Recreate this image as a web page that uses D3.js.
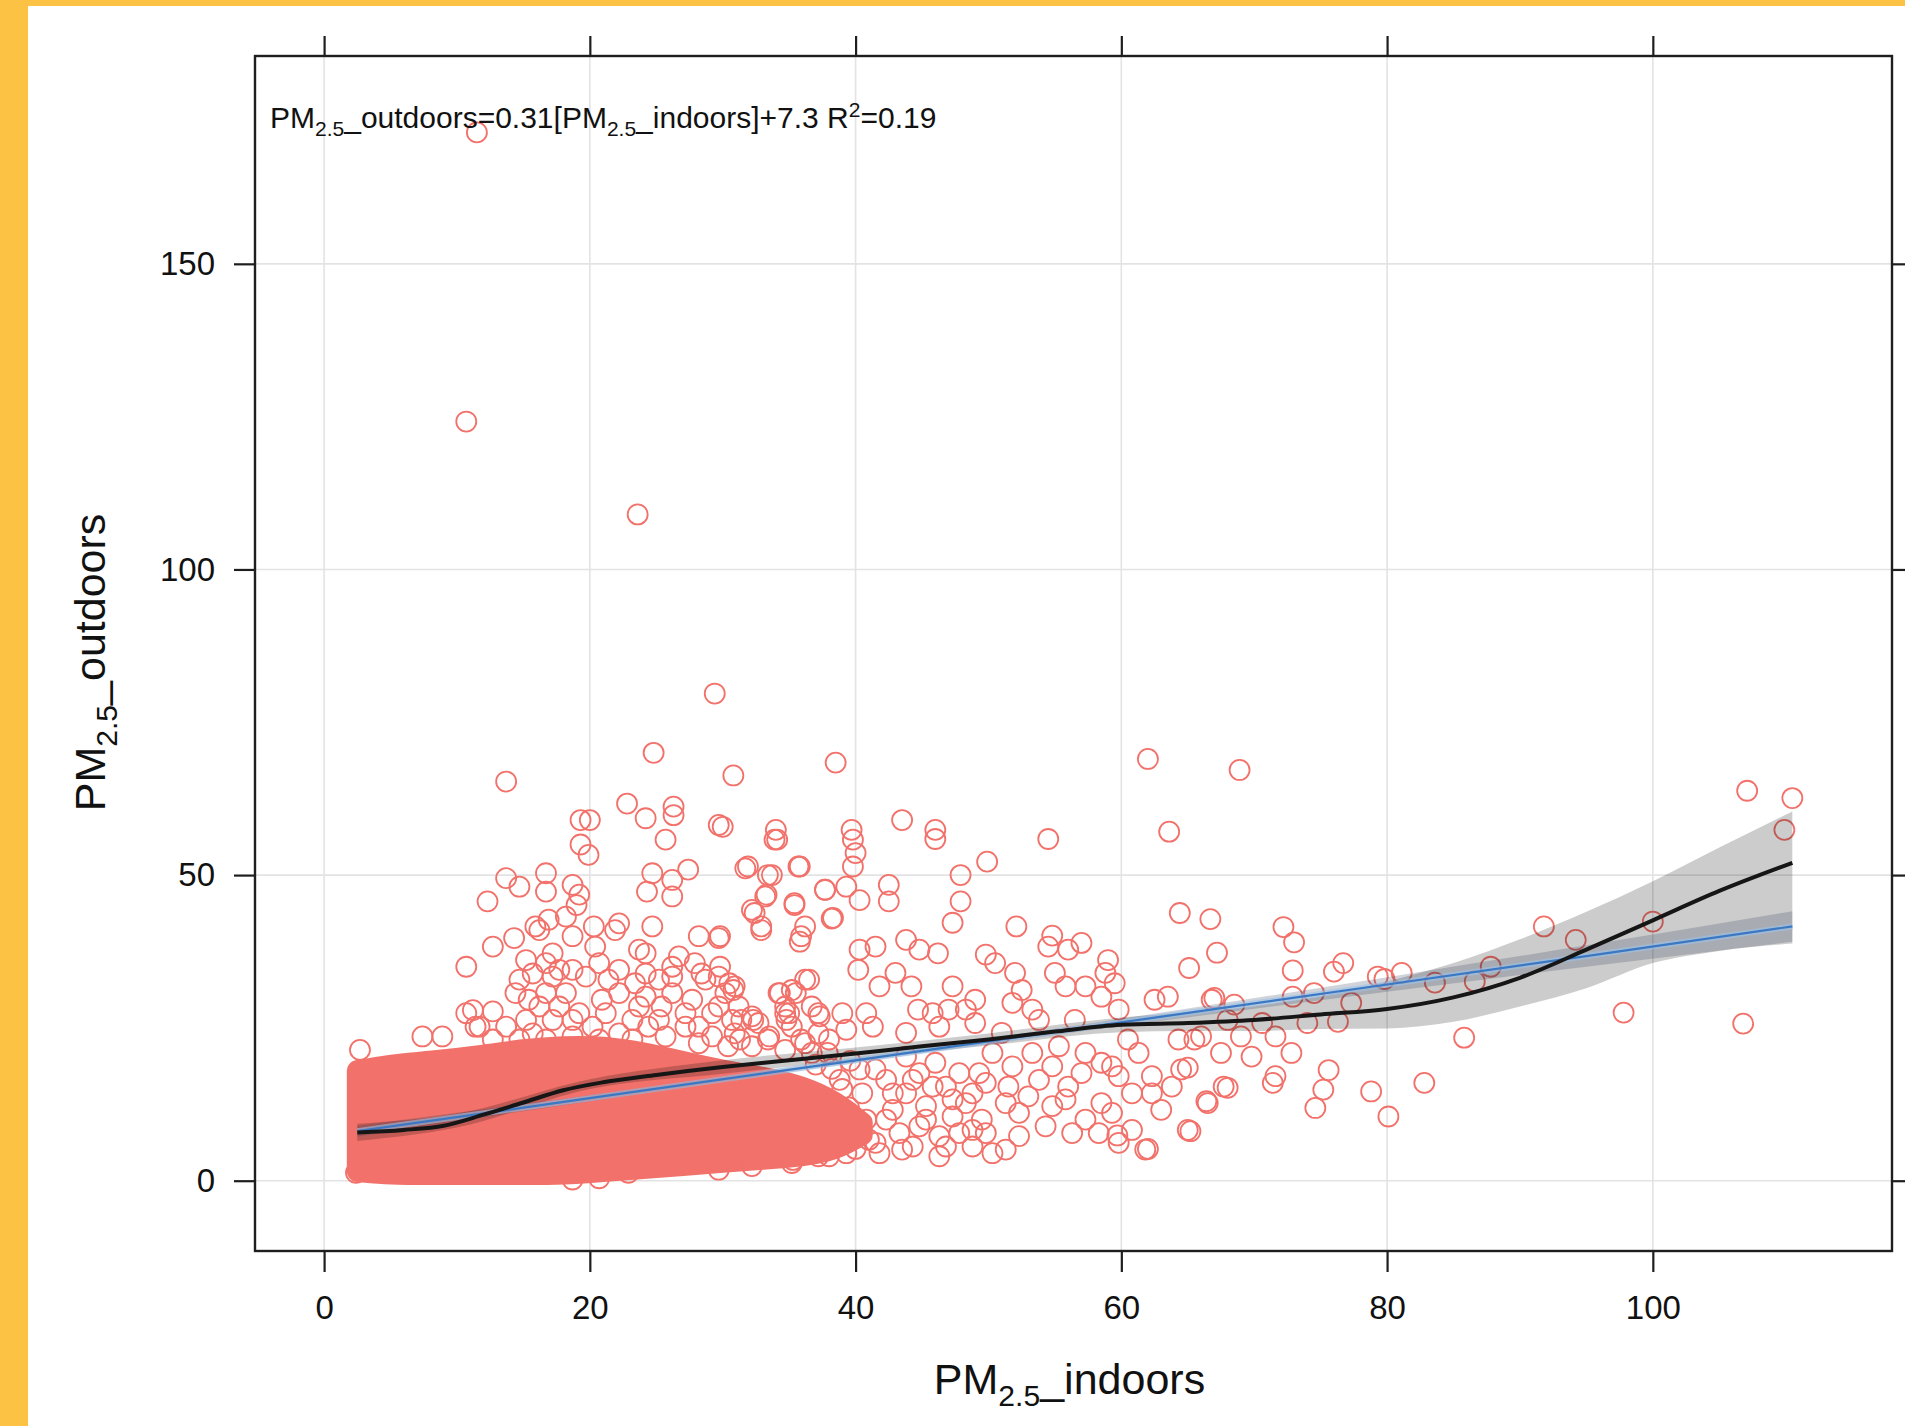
<!DOCTYPE html>
<html>
<head>
<meta charset="utf-8">
<script src="https://cdn.jsdelivr.net/npm/d3@7"></script>
<style>
  body { margin: 0; background: #fff; }
  svg { display: block; font-family: "Liberation Sans", Arial, sans-serif; }
</style>
</head>
<body>
<svg id="chart" width="1905" height="1426"></svg>
<script>
// ---- data (PM2.5 indoors, PM2.5 outdoors) ----
const xTicks = [0, 20, 40, 60, 80, 100];
const yTicks = [0, 50, 100, 150];

// dense, saturated cloud of points (centre envelope)
const coreX   = [2.5, 5, 8, 12, 15, 18, 21, 24, 27, 30, 33, 36, 38.5, 40.5];
const coreTop = [18, 19, 19.5, 20.5, 21.5, 22, 22, 21, 19.5, 18, 17, 15.5, 13, 9.5];
const coreBot = [1.5, 1, 1, 1, 1, 1, 1.5, 2, 2.5, 3, 3.5, 4, 5, 7.5];

const ptsHigh = [[11.5,171.5],[10.7,124.2],[23.6,109.0],[29.4,79.7],[13.7,65.3],[24.8,70.0],[30.8,66.3],
  [38.5,68.4],[62.0,69.0],[68.9,67.2],[107.1,63.8],[110.5,62.6],[109.9,57.4],[22.8,61.7],[24.2,59.3],
  [26.3,61.2],[26.3,59.8],[19.3,59.0],[20.0,59.0],[29.7,58.2],[43.5,59.0],[34.0,57.4],[39.7,57.4],
  [46.0,57.4],[25.7,55.8],[19.3,55.0],[19.9,53.3],[33.9,55.8],[30.0,57.9],[63.6,57.1]];

const ptsMid = [[46.0,55.9],[54.5,55.9],[34.1,55.8],[31.9,51.4],[33.7,50.0],[35.8,51.4],[39.8,55.8],
  [40.0,53.6],[39.8,51.4],[49.9,52.2],[47.9,50.0],[42.5,48.4],[42.5,45.7],[47.9,45.7],[47.3,42.2],
  [37.7,47.6],[39.3,48.1],[40.3,45.9],[33.3,46.8],[35.4,45.1],[32.4,43.8],[32.9,41.0],[36.2,41.6],
  [35.8,39.1],[38.3,43.0],[52.1,41.6],[54.8,40.1],[29.8,40.0]];

const ptsBand = [[40.3,37.8],[41.5,38.3],[43.8,39.4],[44.8,37.8],[46.2,37.2],[49.8,37.0],[50.5,35.6],
  [54.5,38.3],[56.0,37.8],[57.0,38.9],[59.0,36.1],[58.8,34.0],[40.2,34.5],[43.0,34.0],[41.8,31.8],
  [44.2,31.8],[47.3,31.8],[49.0,29.6],[52.0,34.0],[52.5,31.2],[55.0,34.0],[55.8,31.8],[57.3,31.8],
  [58.5,30.1],[59.5,32.3],[51.8,29.1],[53.3,28.0],[45.8,27.4],[47.0,28.0],[48.3,28.0],[44.7,28.0],
  [40.8,27.4],[39.0,27.4],[37.3,26.9],[35.0,27.4],[35.5,30.7],[32.3,26.3],[30.8,31.2],[29.8,35.0],
  [31.3,23.1],[33.5,23.6],[36.2,22.5],[39.3,24.7],[41.3,25.2],[43.8,24.2],[46.3,25.2],[49.0,25.8],
  [51.0,24.2],[53.8,26.3],[56.5,26.3],[59.8,28.0],[60.5,23.1],[62.5,29.6],[63.5,30.1],[66.8,29.6],
  [68.0,26.3],[66.0,23.6],[64.3,23.1],[30.5,32.3],[34.3,30.7],[36.5,32.9],[34.8,26.3],[38.0,23.1]];

const ptsLow = [[51.5,15.4],[53.8,16.5],[56.0,15.4],[57.0,17.6],[58.5,19.3],[59.8,17.1],[60.8,14.3],
  [62.3,17.1],[64.5,18.2],[66.5,12.7],[67.7,15.4],[63.0,11.6],[58.5,12.7],[55.8,13.3],[53.0,13.8],
  [54.3,8.9],[56.3,7.8],[58.3,7.8],[59.8,6.2],[61.8,5.1],[60.8,8.3],[65.0,8.3],[52.3,7.3],[51.3,5.1],
  [50.3,4.5],[46.8,5.6],[46.3,4.0],[47.8,7.8],[43.5,5.1],[41.5,6.2],[39.3,4.5],[38.0,4.0],[36.8,4.5],
  [35.3,3.4],[33.5,4.5],[41.5,18.2],[42.8,14.3],[44.3,16.5],[45.3,12.2],[46.8,15.4],[48.3,12.7],
  [49.3,17.6],[42.3,10.0],[44.8,8.9],[47.3,10.5],[46.0,19.3],[43.8,20.3],[48.8,8.3],[59.7,7.4],[62.0,5.2],
  [50.3,20.9],[51.8,18.7],[53.3,20.9],[54.8,18.7],[55.3,22.0],[57.3,20.9],[59.3,18.7],[61.3,20.9],
  [62.3,14.3],[63.8,15.4],[52.3,11.1],[54.8,12.2],[57.3,10.0],[59.3,11.1],[51.3,12.7],[49.8,7.8]];

// fringe of the cloud, 36 < x < 50
const ptsFringe = [[40.3,18.2],[40.5,14.3],[40.8,10.0],[41.0,6.7],[42.3,16.5],[42.8,11.6],[43.3,7.8],
  [43.8,14.3],[44.8,17.6],[45.3,10.0],[45.8,15.4],[46.3,7.3],[47.3,13.3],[47.8,17.6],[48.8,14.3],
  [49.5,10.0],[49.8,16.0],[44.3,5.6],[41.8,4.5],[48.8,5.6],[39.5,12.0],[39.8,8.0],[38.8,16.5],
  [39.0,15.0],[40.0,5.2],[38.2,18.3],[37.0,19.0],[39.6,19.6]];

const ptsRight = [[64.4,43.8],[66.7,42.8],[72.2,41.5],[73.0,39.0],[67.2,37.3],[65.1,34.8],[72.9,34.4],
  [76.7,35.6],[76.0,34.2],[91.8,41.6],[94.2,39.4],[100.0,42.4],[87.8,35.0],[83.6,32.4],[86.6,32.6],
  [79.3,33.4],[81.1,34.0],[79.8,33.0],[97.8,27.5],[85.8,23.4],[82.8,16.0],[78.8,14.6],[80.1,10.5],
  [75.6,18.1],[75.2,14.9],[74.6,11.9],[72.8,20.9],[71.6,17.1],[71.4,16.0],[69.8,20.3],[68.0,15.2],
  [66.4,13.0],[65.2,8.1],[65.0,18.5],[67.5,20.9],[69.0,23.6],[71.6,23.6],[74.0,25.8],[76.3,26.0],
  [77.3,29.1],[74.5,30.7],[68.5,28.8],[67.0,29.9],[65.5,23.1],[70.6,25.8],[72.9,30.1],[106.8,25.7]];

const ptsLeft = [[13.7,49.5],[12.3,45.7],[14.7,48.1],[16.7,50.3],[16.7,47.3],[18.7,48.4],[19.2,46.8],
  [19.0,45.1],[24.7,50.3],[24.3,47.3],[26.2,46.5],[26.2,49.2],[27.4,50.9],[31.7,51.1],[33.4,50.0],
  [35.7,51.4],[32.2,44.3],[33.2,46.5],[35.4,45.4],[32.9,41.6],[35.9,40.0],[37.7,47.6],[38.2,42.9],
  [10.7,35.0],[12.7,38.3],[14.3,39.7],[16.2,41.0],[16.9,42.7],[18.7,40.0],[20.3,41.6],[22.2,42.1],
  [24.7,41.6],[15.2,36.1],[17.2,37.2],[20.4,38.3],[24.2,37.2],[28.2,40.0],[29.7,39.7],[26.7,36.7],
  [14.7,32.9],[17.2,33.4],[18.7,34.5],[22.2,34.5],[24.2,33.9],[26.2,35.0],[28.4,33.9],[29.7,33.4],
  [30.9,31.8],[35.2,31.2],[36.2,32.9],[11.2,27.9],[12.7,27.7],[15.4,29.6],[16.7,30.7],[17.7,28.5],
  [20.9,29.6],[23.7,28.5],[25.4,28.5],[27.7,29.6],[29.7,28.5],[32.2,26.9],[34.7,28.5],[37.2,27.4],
  [7.4,23.6],[8.9,23.6],[2.7,21.4],[11.7,25.2],[13.7,25.2],[15.7,24.1],[18.7,26.3],[22.2,24.1],
  [24.4,25.2],[27.2,25.2],[29.2,23.6],[30.9,24.1],[33.4,23.1],[35.9,23.1],[37.9,20.9],
  [2.4,1.3],[27.2,2.9],[29.7,1.8],[32.2,2.4],[35.2,2.9],[37.2,4.0],[18.7,0.2],[20.7,0.4],[22.9,1.3]];

// busy zone just above the cloud, 10 < x < 38
const ptsBusy = [[15.9,41.6],[18.2,43.2],[21.9,41.0],[23.7,37.8],[26.2,33.4],[27.9,35.6],[28.7,32.9],
  [30.2,30.7],[31.2,28.5],[31.4,26.3],[32.7,25.8],[34.2,30.7],[34.7,27.4],[35.2,25.2],[36.7,28.5],
  [37.2,24.1],[14.4,30.7],[15.2,26.3],[16.2,28.5],[17.2,26.3],[18.2,30.7],[19.2,27.4],[20.2,25.2],
  [21.2,27.4],[22.2,30.7],[23.2,26.3],[24.2,30.1],[25.2,26.3],[26.2,30.7],[27.2,27.4],[28.2,25.2],
  [29.2,27.4],[30.7,26.3],[15.7,33.9],[16.7,35.6],[17.7,34.5],[19.7,33.4],[20.7,35.6],[21.4,32.9],
  [23.4,32.3],[25.2,32.9],[14.7,23.1],[16.7,23.1],[18.7,23.6],[20.7,23.1],[23.2,23.1],[25.7,23.6],
  [28.2,22.5],[30.4,22.0],[32.2,22.0],[34.7,21.4],[36.7,20.9],[10.7,27.4],[11.4,25.2],[12.7,23.1]];

// smooth (loess) fit and its band
const smoothX = [2.5, 6, 9, 12, 15, 18, 21, 25, 30, 35, 40, 45, 50, 55, 60, 65, 70, 75, 80, 85, 90, 95, 100, 105, 110.5];
const smoothY = [7.9, 8.3, 9.0, 10.8, 12.8, 14.8, 16.1, 17.3, 18.6, 19.7, 20.8, 22.0, 23.1, 24.4, 25.5, 25.8, 26.3, 27.2, 28.1, 30.0, 33.2, 37.8, 42.6, 47.4, 52.0];
const bandX  = [2.5, 10, 20, 30, 40, 50, 60, 65, 70, 75, 80, 85, 90, 95, 100, 105, 110.5];
const bandHi = [9.3, 11.0, 16.6, 19.7, 21.8, 24.1, 26.7, 27.5, 28.6, 30.2, 32.6, 35.6, 39.5, 44.0, 49.0, 54.5, 60.4];
const bandLo = [6.5, 8.7, 15.0, 17.5, 19.8, 22.1, 24.3, 24.5, 24.5, 24.8, 24.9, 26.0, 28.5, 31.5, 35.6, 37.6, 38.8];

// linear fit (0.31x + 7.3) and its band
const linX  = [2.5, 20, 40, 60, 80, 95, 110.5];
const linY  = [8.1, 13.5, 19.7, 25.9, 32.1, 36.75, 41.6];
const linHi = [9.0, 14.0, 20.1, 26.5, 33.3, 38.5, 44.1];
const linLo = [7.2, 13.0, 19.3, 25.3, 30.9, 35.0, 39.1];

// ---- drawing ----
const svg = d3.select('#chart');
const panel = { left: 255, right: 1892, top: 56, bottom: 1251 };
const ptColour = '#f2716a';
const ink = '#1e1e1e';

const x = d3.scaleLinear().domain([-5.2, 118]).range([panel.left, panel.right]);
const y = d3.scaleLinear().domain([-11.5, 184]).range([panel.bottom, panel.top]);

// yellow frame
svg.append('rect').attr('x', 0).attr('y', 0).attr('width', 1905).attr('height', 6).attr('fill', '#fbc244');
svg.append('rect').attr('x', 0).attr('y', 0).attr('width', 28).attr('height', 1426).attr('fill', '#fbc244');

svg.append('clipPath').attr('id', 'clip')
  .append('rect')
  .attr('x', panel.left).attr('y', panel.top)
  .attr('width', panel.right - panel.left).attr('height', panel.bottom - panel.top);

const g = svg.append('g').attr('clip-path', 'url(#clip)');

// grid
g.selectAll('.gx').data(xTicks).enter().append('line')
  .attr('x1', d => x(d)).attr('x2', d => x(d))
  .attr('y1', panel.top).attr('y2', panel.bottom)
  .attr('stroke', '#e3e3e3').attr('stroke-width', 1.6);
g.selectAll('.gy').data(yTicks).enter().append('line')
  .attr('y1', d => y(d)).attr('y2', d => y(d))
  .attr('x1', panel.left).attr('x2', panel.right)
  .attr('stroke', '#e3e3e3').attr('stroke-width', 1.6);

// saturated cloud
const core = coreX.map((d, i) => ({ x: d, hi: coreTop[i], lo: coreBot[i] }));
g.append('path')
  .datum(core)
  .attr('d', d3.area().x(d => x(d.x)).y0(d => y(d.lo)).y1(d => y(d.hi)).curve(d3.curveBasis))
  .attr('fill', ptColour)
  .attr('stroke', ptColour)
  .attr('stroke-width', 21)
  .attr('stroke-linejoin', 'round');

// individual points
const allPts = [].concat(ptsHigh, ptsMid, ptsBand, ptsLow, ptsFringe, ptsRight, ptsLeft, ptsBusy);
g.append('g').selectAll('circle')
  .data(allPts)
  .enter().append('circle')
  .attr('cx', d => x(d[0]))
  .attr('cy', d => y(d[1]))
  .attr('r', 10)
  .attr('fill', 'none')
  .attr('stroke', ptColour)
  .attr('stroke-width', 1.8);

// loess band
const band = bandX.map((d, i) => ({ x: d, hi: bandHi[i], lo: bandLo[i] }));
g.append('path')
  .datum(band)
  .attr('d', d3.area().x(d => x(d.x)).y0(d => y(d.lo)).y1(d => y(d.hi)).curve(d3.curveMonotoneX))
  .attr('fill', '#000').attr('fill-opacity', 0.2);

// linear band
const lband = linX.map((d, i) => ({ x: d, hi: linHi[i], lo: linLo[i] }));
g.append('path')
  .datum(lband)
  .attr('d', d3.area().x(d => x(d.x)).y0(d => y(d.lo)).y1(d => y(d.hi)).curve(d3.curveMonotoneX))
  .attr('fill', '#2a3d55').attr('fill-opacity', 0.22);

// linear fit line
const lin = linX.map((d, i) => ({ x: d, y: linY[i] }));
const lineGen = d3.line().x(d => x(d.x)).y(d => y(d.y));
g.append('path').datum(lin).attr('d', lineGen)
  .attr('fill', 'none').attr('stroke', '#9cc2ea').attr('stroke-width', 6).attr('stroke-opacity', 0.6);
g.append('path').datum(lin).attr('d', lineGen)
  .attr('fill', 'none').attr('stroke', '#3a78c4').attr('stroke-width', 2.2);

// smooth fit line
const sm = smoothX.map((d, i) => ({ x: d, y: smoothY[i] }));
g.append('path').datum(sm)
  .attr('d', d3.line().x(d => x(d.x)).y(d => y(d.y)).curve(d3.curveMonotoneX))
  .attr('fill', 'none').attr('stroke', '#161616').attr('stroke-width', 4);

// panel border
svg.append('rect')
  .attr('x', panel.left).attr('y', panel.top)
  .attr('width', panel.right - panel.left).attr('height', panel.bottom - panel.top)
  .attr('fill', 'none').attr('stroke', ink).attr('stroke-width', 2.4);

// axes (lattice style: labelled left/bottom, bare ticks top/right)
function styleAxis(sel) {
  sel.select('.domain').remove();
  sel.selectAll('.tick line').attr('stroke', ink).attr('stroke-width', 2.2);
  sel.selectAll('.tick text').attr('fill', '#111').attr('font-size', 33)
    .attr('font-family', '"Liberation Sans", Arial, sans-serif');
}
svg.append('g').attr('transform', `translate(${panel.left},0)`)
  .call(d3.axisLeft(y).tickValues(yTicks).tickSize(21).tickPadding(19))
  .call(styleAxis);
svg.append('g').attr('transform', `translate(0,${panel.bottom})`)
  .call(d3.axisBottom(x).tickValues(xTicks).tickSize(21).tickPadding(24))
  .call(styleAxis);
svg.append('g').attr('transform', `translate(0,${panel.top})`)
  .call(d3.axisTop(x).tickValues(xTicks).tickSize(20).tickFormat(''))
  .call(styleAxis);
svg.append('g').attr('transform', `translate(${panel.right},0)`)
  .call(d3.axisRight(y).tickValues(yTicks).tickSize(13).tickFormat(''))
  .call(styleAxis);

// rich text helper: segments with optional sub / sup
function richText(sel, parts, size) {
  parts.forEach(p => {
    const t = sel.append('tspan').text(p.t);
    if (p.sub) t.attr('font-size', size * 0.7).attr('dy', size * 0.28);
    else if (p.sup) t.attr('font-size', size * 0.7).attr('dy', -size * 0.38);
    if (p.back) t.attr('dy', p.back);
  });
}

// x title
const fs = 43;
const xt = svg.append('text').attr('x', (panel.left + panel.right) / 2 - 4).attr('y', 1394)
  .attr('text-anchor', 'middle').attr('font-size', fs).attr('fill', '#111');
richText(xt, [{ t: 'PM' }, { t: '2.5', sub: true }, { t: '_indoors', back: -fs * 0.28 }], fs);

// y title
const yt = svg.append('text')
  .attr('transform', `translate(105,${(panel.top + panel.bottom) / 2 + 9}) rotate(-90)`)
  .attr('text-anchor', 'middle').attr('font-size', fs).attr('fill', '#111');
richText(yt, [{ t: 'PM' }, { t: '2.5', sub: true }, { t: '_outdoors', back: -fs * 0.28 }], fs);

// fit annotation
const as = 30;
const ann = svg.append('text').attr('x', 270).attr('y', 128).attr('font-size', as).attr('fill', '#111');
richText(ann, [
  { t: 'PM' }, { t: '2.5', sub: true }, { t: '_outdoors=0.31[PM', back: -as * 0.28 },
  { t: '2.5', sub: true }, { t: '_indoors]+7.3 R', back: -as * 0.28 },
  { t: '2', sup: true }, { t: '=0.19', back: as * 0.38 }
], as);
</script>
</body>
</html>
